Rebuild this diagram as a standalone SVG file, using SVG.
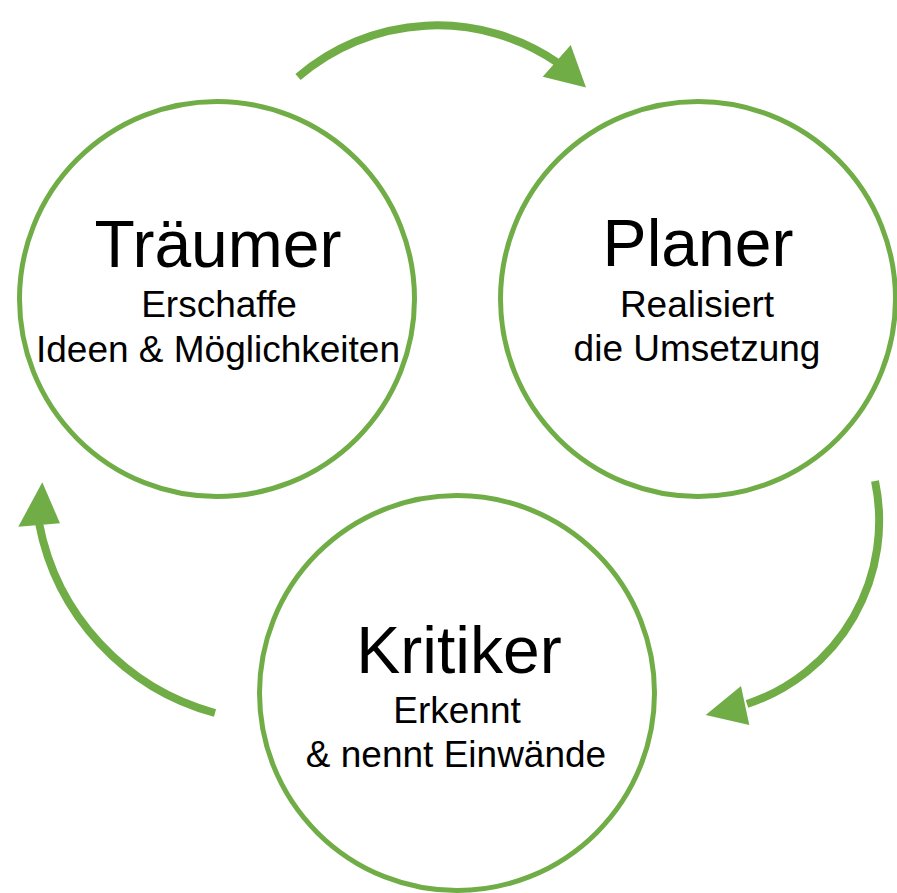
<svg xmlns="http://www.w3.org/2000/svg" width="897" height="893" viewBox="0 0 897 893">
<style>
.node{fill:#fff;stroke:#70AD47;stroke-width:5}
.t{font-family:"Liberation Sans",Arial,sans-serif;fill:#000;text-anchor:middle}
.h{font-size:66px}
.s{font-size:37px}
.arc{fill:none;stroke:#70AD47;stroke-width:8}
.head{fill:#70AD47}
</style>
<rect width="897" height="893" fill="#fff"/>
<g id="connectors">
<path class="arc" d="M298,77 A213,213 0 0 1 558,63"/>
<polygon class="head" points="586,87.5 570.7,45 542.7,76.7"/>
<path class="arc" d="M875,481 A193,193 0 0 1 747,704"/>
<polygon class="head" points="705.7,715 741,686 749.3,725"/>
<path class="arc" d="M215,713 A244,244 0 0 1 39,523"/>
<polygon class="head" points="42.3,482.3 18.3,526.7 60,523.3"/>
</g>
<g id="traeumer">
<circle class="node" cx="217" cy="299" r="197.5"/>
<text class="t h" x="218" y="267">Träumer</text>
<text class="t s" x="219" y="317">Erschaffe</text>
<text class="t s" x="218" y="362">Ideen &amp; Möglichkeiten</text>
</g>
<g id="planer">
<circle class="node" cx="698" cy="299" r="197.5"/>
<text class="t h" x="698" y="266">Planer</text>
<text class="t s" x="697" y="317">Realisiert</text>
<text class="t s" x="697" y="361">die Umsetzung</text>
</g>
<g id="kritiker">
<circle class="node" cx="457" cy="693" r="197.5"/>
<text class="t h" x="459" y="673">Kritiker</text>
<text class="t s" x="457" y="723">Erkennt</text>
<text class="t s" x="456" y="767">&amp; nennt Einwände</text>
</g>
</svg>
